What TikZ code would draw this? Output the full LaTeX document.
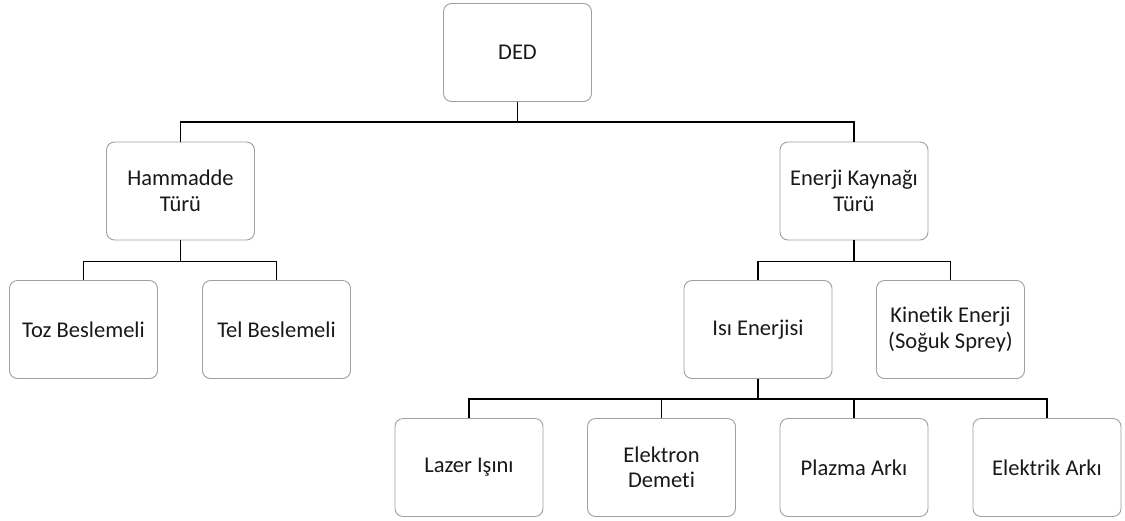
\documentclass[tikz,border=0pt]{standalone}
\usepackage{fontspec}
\setmainfont{Carlito}[Ligatures={NoCommon}]
\begin{document}
\begin{tikzpicture}[x=1pt,y=-1pt,
  box/.style={draw=boxgray,line width=0.9pt,rounded corners=8pt,minimum width=148pt,minimum height=98pt,align=center,inner sep=2pt,font=\fontsize{22.5}{25.5}\selectfont,text=black!90},
  conn/.style={draw=black,line width=1.6pt}]
\definecolor{boxgray}{HTML}{A0A0A0}
\useasboundingbox[fill=white] (0,0) rectangle (1125,520);
\node[box] (DED) at (517.5,52.5) {DED};
\node[box] (Ham) at (180.5,191) {Hammadde\\Türü};
\node[box] (Ene) at (854,191) {Enerji Kaynağı\\Türü};
\node[box] (Toz) at (83.5,329.5) {Toz Beslemeli};
\node[box] (Tel) at (276.5,329.5) {Tel Beslemeli};
\node[box] (Isi) at (758,329.5) {Isı Enerjisi};
\node[box] (Kin) at (950.5,329.5) {Kinetik Enerji\\(Soğuk Sprey)};
\node[box] (Laz) at (469,467.5) {Lazer Işını};
\node[box] (Ele) at (661.5,467.5) {Elektron\\Demeti};
\node[box] (Pla) at (854,467.5) {Plazma Arkı};
\node[box] (Elk) at (1047,467.5) {Elektrik Arkı};
\draw[conn] (DED.south) -- ++(0,20) -| (Ham.north);
\draw[conn] (DED.south) -- ++(0,20) -| (Ene.north);
\draw[conn] (Ham.south) -- ++(0,21) -| (Toz.north);
\draw[conn] (Ham.south) -- ++(0,21) -| (Tel.north);
\draw[conn] (Ene.south) -- ++(0,21) -| (Isi.north);
\draw[conn] (Ene.south) -- ++(0,21) -| (Kin.north);
\draw[conn] (Isi.south) -- ++(0,20) -| (Laz.north);
\draw[conn] (Isi.south) -- ++(0,20) -| (Ele.north);
\draw[conn] (Isi.south) -- ++(0,20) -| (Pla.north);
\draw[conn] (Isi.south) -- ++(0,20) -| (Elk.north);
\end{tikzpicture}
\end{document}
